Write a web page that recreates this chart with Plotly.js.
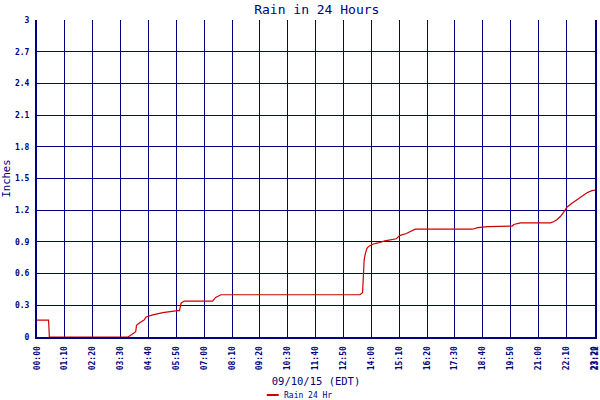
<!DOCTYPE html>
<html>
<head>
<meta charset="utf-8">
<script src="https://cdn.plot.ly/plotly-3.0.1.min.js"></script>
<style>
    html, body { margin: 0; padding: 0; background: #fff; }
    #chart { width: 600px; height: 400px; }
</style>
</head>
<body>
<div id="chart"></div>
<script>
// rain gauge readings, 09/10/15
const times = [
    '00:00', '00:29', '00:30', '00:31', '03:49', '03:57', '04:08', '04:10',
    '04:18', '04:29', '04:34', '04:51', '05:16', '05:53', '05:58', '06:02',
    '06:10', '07:21', '07:29', '07:42', '13:31', '13:38', '13:40', '13:42',
    '13:45', '13:49', '13:54', '14:05', '14:17', '14:34', '15:03', '15:11',
    '15:28', '15:40', '15:50', '18:14', '18:27', '18:53', '19:54', '19:58',
    '20:15', '21:30', '21:38', '21:46', '21:55', '22:03', '22:12', '22:24',
    '22:37', '22:53', '23:02', '23:14', '23:22'
];
const rainInches = [
    0.16, 0.16, 0.09, 0, 0, 0.02, 0.05, 0.11,
    0.135, 0.16, 0.19, 0.21, 0.23, 0.25, 0.25, 0.32,
    0.34, 0.34, 0.375, 0.40, 0.40, 0.42, 0.54, 0.73,
    0.79, 0.84, 0.86, 0.88, 0.89, 0.91, 0.93, 0.96,
    0.98, 1.00, 1.02, 1.02, 1.035, 1.045, 1.05, 1.065,
    1.08, 1.08, 1.09, 1.11, 1.14, 1.18, 1.23, 1.265,
    1.30, 1.34, 1.365, 1.385, 1.39
];
const xTickLabels = [
    '00:00', '01:10', '02:20', '03:30', '04:40', '05:50', '07:00', '08:10',
    '09:20', '10:30', '11:40', '12:50', '14:00', '15:10', '16:20', '17:30',
    '18:40', '19:50', '21:00', '22:10', '23:20', '23:22'
];
const yTickValues = [0, 0.3, 0.6, 0.9, 1.2, 1.5, 1.8, 2.1, 2.4, 2.7, 3];
const yTickLabels = ['0', '0.3', '0.6', '0.9', '1.2', '1.5', '1.8', '2.1', '2.4', '2.7', '3'];
const seriesName = 'Rain 24 Hr';

const NAVY = '#000080';
const RED = '#cc0000';
const MONO = '"DejaVu Sans Mono", "Liberation Mono", monospace';

function toMinutes(hhmm) {
    const [h, m] = hhmm.split(':').map(Number);
    return h * 60 + m;
}

const xs = times.map(toMinutes);
const xTickValues = xTickLabels.map(toMinutes);

const data = [{
    type: 'scatter',
    mode: 'lines',
    name: seriesName,
    x: xs,
    y: rainInches,
    line: { color: RED, width: 1.2 }
}];

// legend drawn by hand so the sample line stays short like the original
const legendY = -0.183;

const layout = {
    width: 600,
    height: 400,
    margin: { t: 20, l: 37, r: 5, b: 63, autoexpand: false },
    paper_bgcolor: '#ffffff',
    plot_bgcolor: '#ffffff',
    font: { family: MONO, size: 8, color: NAVY },
    showlegend: false,
    title: {
        text: 'Rain in 24 Hours',
        font: { family: MONO, size: 13, color: NAVY },
        x: 0.528,
        xanchor: 'center',
        y: 0.977,
        yanchor: 'middle'
    },
    xaxis: {
        range: [0, xTickValues[xTickValues.length - 1]],
        tickmode: 'array',
        tickvals: xTickValues,
        ticktext: xTickLabels,
        tickangle: -90,
        tickfont: { family: MONO, size: 8, color: NAVY, weight: 'bold' },
        ticklabeloverflow: 'allow',
        ticklabelstandoff: 4,
        showgrid: true,
        gridcolor: NAVY,
        gridwidth: 1,
        showline: true,
        linecolor: NAVY,
        linewidth: 2,
        zeroline: false,
        ticks: '',
        title: {
            text: '09/10/15 (EDT)',
            font: { family: MONO, size: 10.5, color: NAVY },
            standoff: 8
        }
    },
    yaxis: {
        range: [0, 3],
        tickmode: 'array',
        tickvals: yTickValues,
        ticktext: yTickLabels,
        tickfont: { family: MONO, size: 8, color: NAVY, weight: 'bold' },
        showgrid: true,
        gridcolor: NAVY,
        gridwidth: 1,
        showline: true,
        mirror: true,
        linecolor: NAVY,
        linewidth: 2,
        zeroline: false,
        ticks: '',
        ticklabelstandoff: 4,
        title: {
            text: 'Inches',
            font: { family: MONO, size: 10.5, color: NAVY },
            standoff: 4
        }
    },
    shapes: [{
        type: 'line',
        xref: 'paper', yref: 'paper',
        x0: 0.4118, x1: 0.4332, y0: legendY, y1: legendY,
        line: { color: RED, width: 2 }
    }],
    annotations: [{
        xref: 'paper', yref: 'paper',
        x: 0.4385, y: legendY,
        xanchor: 'left', yanchor: 'middle',
        text: seriesName,
        showarrow: false,
        font: { family: MONO, size: 8, color: NAVY }
    }]
};

Plotly.newPlot('chart', data, layout, { displayModeBar: false, responsive: false });
</script>
</body>
</html>
